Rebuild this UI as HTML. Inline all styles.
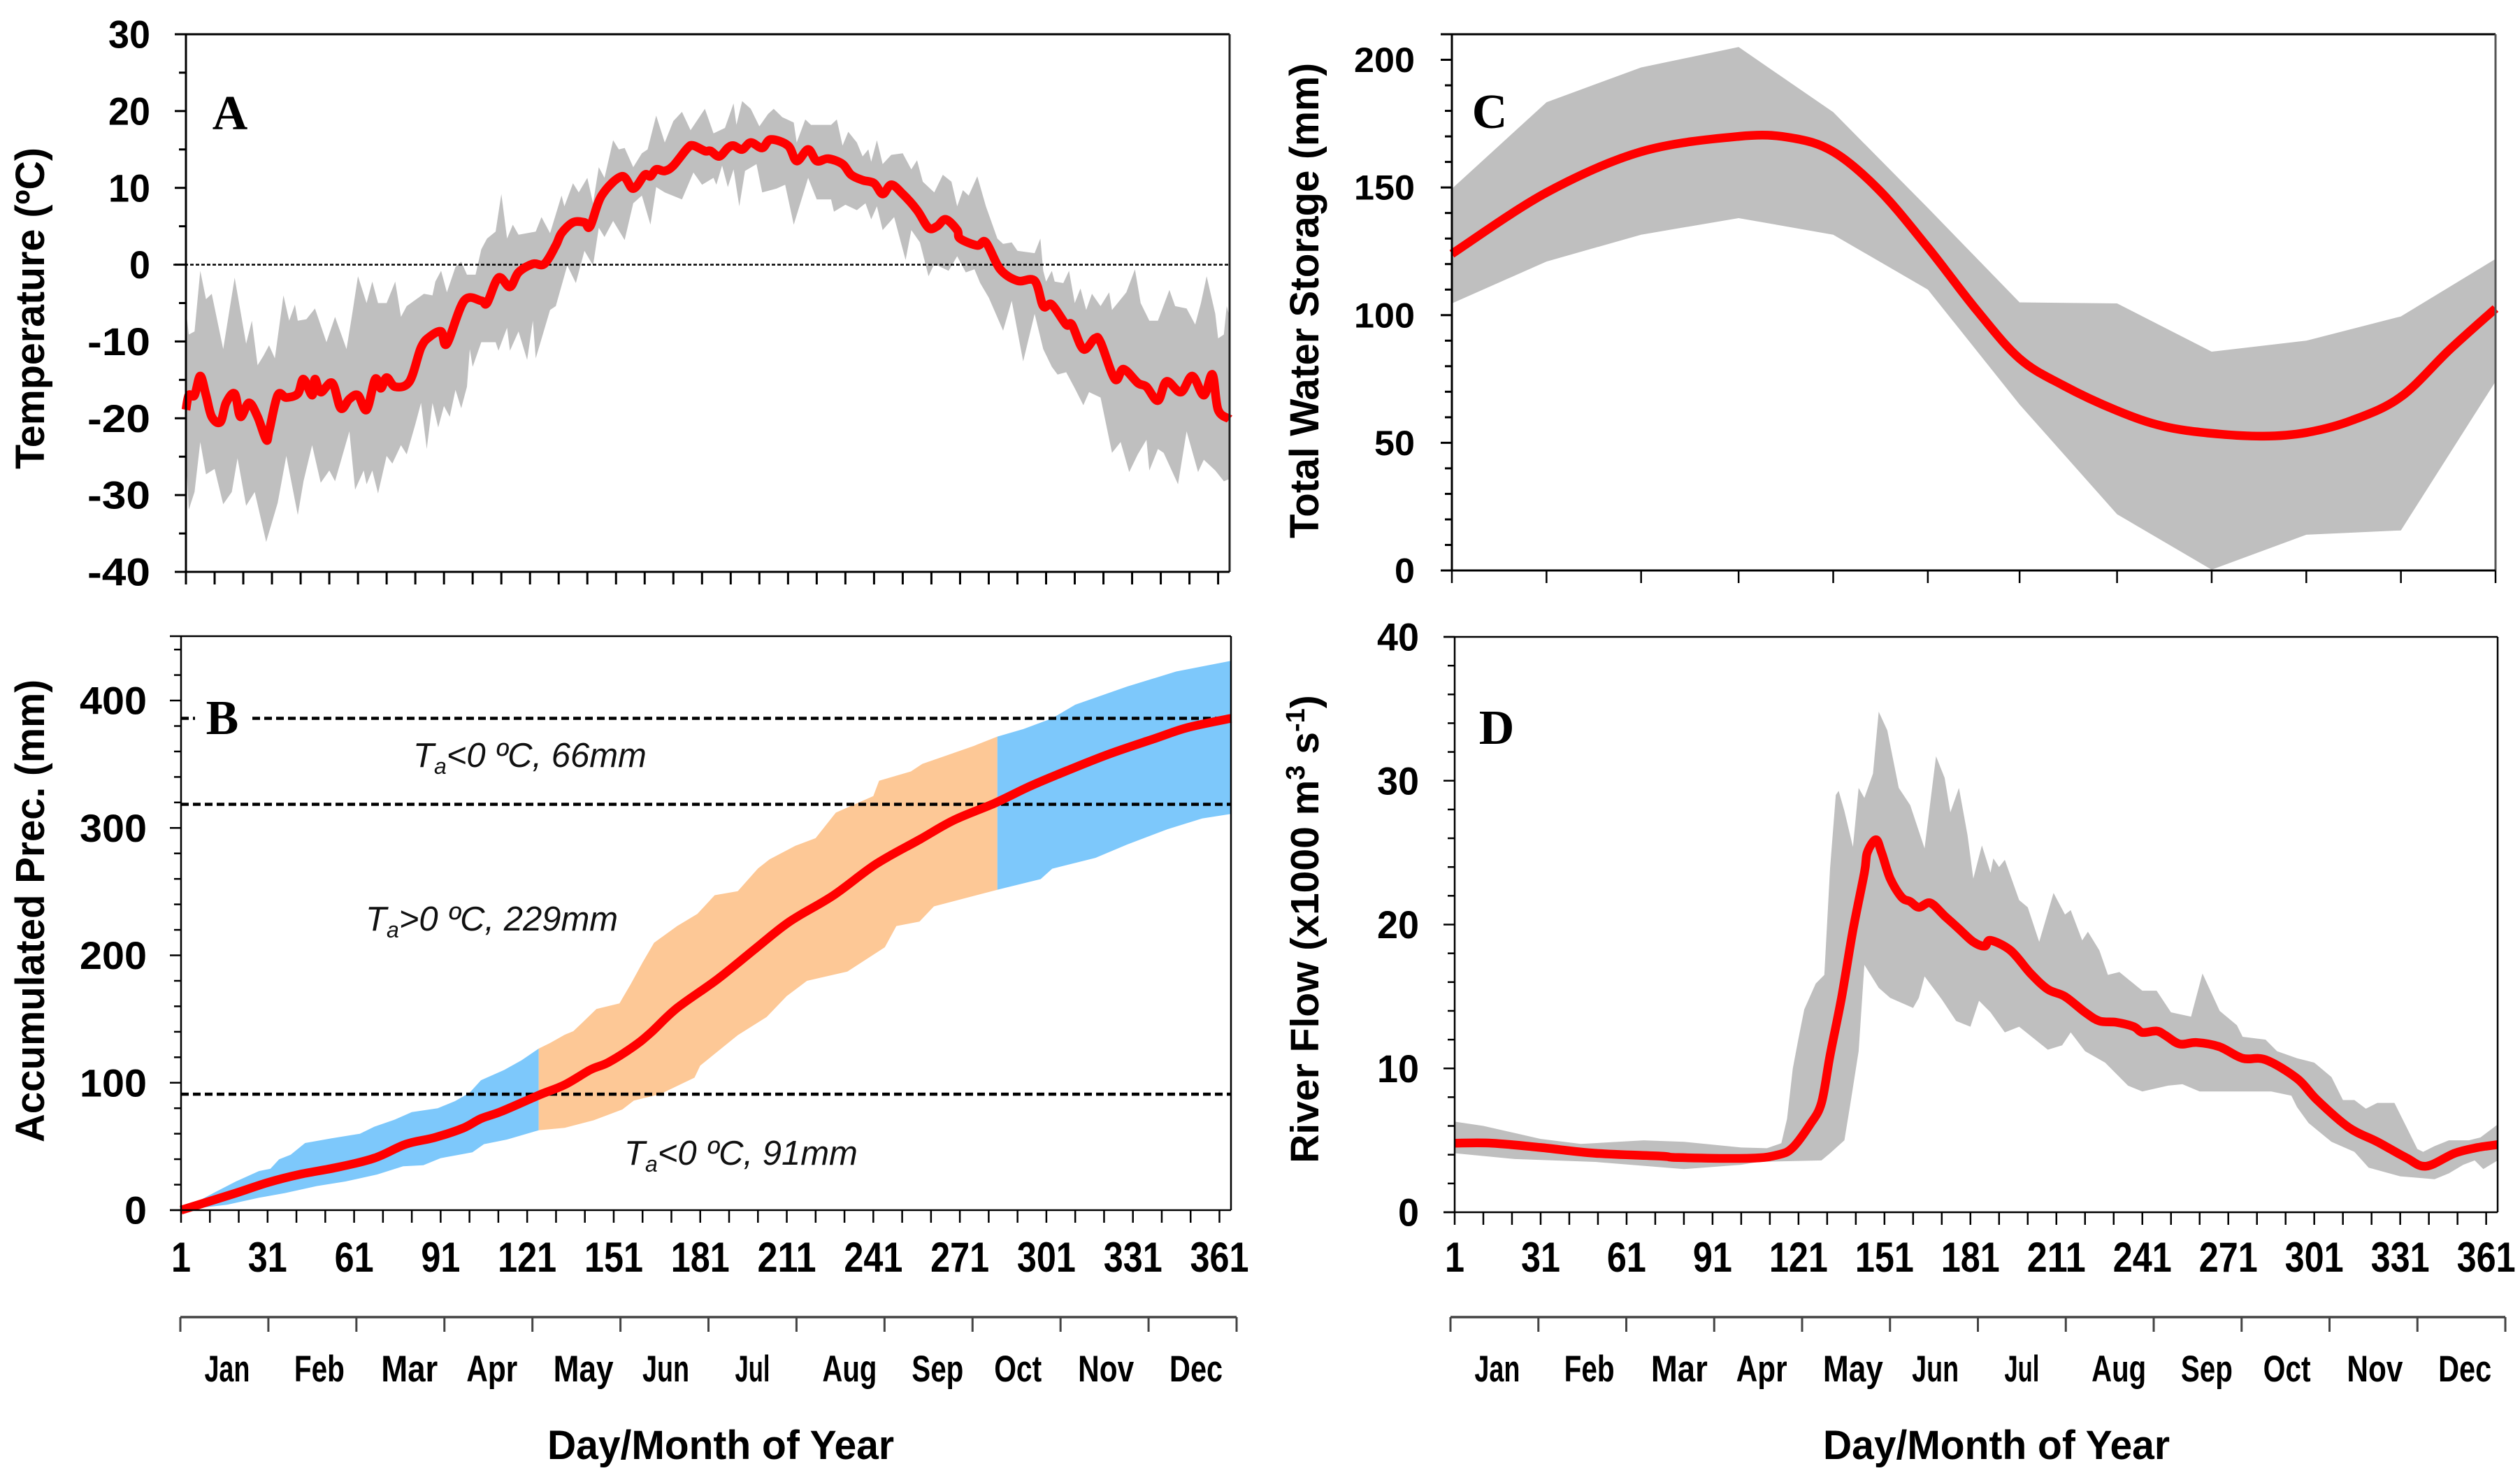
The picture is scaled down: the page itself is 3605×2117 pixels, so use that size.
<!DOCTYPE html>
<html lang="en">
<head>
<meta charset="utf-8">
<title>Temperature, precipitation, water storage and river flow by day of year</title>
<style>
html,body{margin:0;padding:0;background:#fff;}
#figure{position:absolute;left:0;top:0;width:3605px;height:2117px;display:block;}
text{font-family:"Liberation Sans",Arial,sans-serif;fill:#000;}
.ttl{font-weight:bold;}
.panel-letter{font-family:"Liberation Serif",serif;font-weight:bold;font-size:70px;}
.note{font-style:italic;font-size:49px;fill:#111;}
</style>
</head>
<body>
<svg id="figure" xmlns="http://www.w3.org/2000/svg" width="3605" height="2117" viewBox="0 0 3605 2117">
<rect width="3605" height="2117" fill="#fff"/>
<g id="panel-a"></g>
<g id="panel-b"></g>
<g id="panel-c"></g>
<g id="panel-d"></g>

<text class="ttl" font-size="58" text-anchor="middle" transform="translate(63 441) rotate(-90)" textLength="460" lengthAdjust="spacingAndGlyphs">Temperature (ºC)</text>
<text class="ttl" font-size="58" text-anchor="middle" transform="translate(63 1303) rotate(-90)" textLength="662" lengthAdjust="spacingAndGlyphs">Accumulated Prec. (mm)</text>
<text class="ttl" font-size="58" text-anchor="middle" transform="translate(1886 430) rotate(-90)" textLength="680" lengthAdjust="spacingAndGlyphs">Total Water Storage (mm)</text>
<text class="ttl" font-size="57" text-anchor="middle" transform="translate(1886 1329) rotate(-90)">River Flow (x1000 m<tspan font-size="38" dy="-20">3</tspan><tspan dy="20"> s</tspan><tspan font-size="38" dy="-20">-1</tspan><tspan dy="20">)</tspan></text>

<text class="ttl" font-size="58" text-anchor="middle" x="1031" y="2087" textLength="496" lengthAdjust="spacingAndGlyphs">Day/Month of Year</text>
<text class="ttl" font-size="58" text-anchor="middle" x="2856" y="2087" textLength="496" lengthAdjust="spacingAndGlyphs">Day/Month of Year</text>

<text class="note" x="591" y="1097">T<tspan font-size="32" dy="10">a</tspan><tspan dy="-10">&lt;0 ºC, 66mm</tspan></text>
<text class="note" x="523" y="1331">T<tspan font-size="32" dy="10">a</tspan><tspan dy="-10">&gt;0 ºC, 229mm</tspan></text>
<text class="note" x="893" y="1666">T<tspan font-size="32" dy="10">a</tspan><tspan dy="-10">&lt;0 ºC, 91mm</tspan></text>
</svg>

<script>
/* ---------- Panel A: temperature (deg C) ---------- */
const tempUpperDays = [1,2,4,6,8,10,14,18,22,24,26,28,30,32,35,37,39,40,43,46,50,53,57,59,61,64,66,68,71,74,76,78,84,87,88,90,92,95,97,99,102,104,106,109,111,113,115,117,123,125,128,132,133,136,138,141,143,145,147,150,152,154,157,160,162,165,168,171,174,177,182,185,189,192,193,195,198,201,204,206,209,213,214,217,219,226,228,230,232,235,237,239,240,242,244,247,251,254,256,258,262,265,268,270,272,274,277,280,284,286,289,291,297,299,300,301,303,304,307,309,311,313,315,317,320,323,324,329,332,334,337,340,344,346,350,353,355,357,360,361,363,364,365];
const tempUpper = [-5.9,-9.1,-8.7,-0.8,-4.5,-3.8,-11,-1.7,-10.3,-7.3,-13.1,-11.9,-10.5,-12.2,-4,-7.3,-5.2,-7.3,-7.1,-5.7,-10.1,-6.8,-11,-6.4,-1.5,-5,-2.2,-5,-5,-2.2,-6.8,-5.4,-3.8,-4,-2.2,-0.8,-3.6,-0.3,0.4,-1.3,-1.3,2,3.4,4.3,9.2,3.4,5.2,3.9,4.3,6.2,4.1,9,7.6,10.6,9.4,11.3,8,12.7,11.3,16.2,15,15.2,12.7,14.5,15,19.4,15.9,18.7,19.9,17.5,20.3,17.1,17.8,21,18.2,21.3,20.3,18,19.6,20.3,19.2,18.5,15.9,18.9,18.2,18.2,18.9,15.5,17.3,15.9,14.1,15,13.4,16.2,13.1,14.3,14.5,12.4,13.6,10.8,9.4,11.7,10.8,7.6,9.7,9,11.5,7.6,3.4,2.7,2.9,1.8,1.5,3.4,-0.8,-2.2,-0.8,-2.2,-2.4,-0.8,-5,-3.1,-5.9,-3.8,-5.4,-3.6,-5.9,-3.6,-0.6,-5,-7.3,-7.3,-3.3,-5.4,-5.7,-7.8,-5,-1.5,-6.4,-9.6,-9.1,-5.4,-6.8];
const tempLowerDays = [1,2,4,6,8,11,14,17,19,22,25,29,33,36,40,42,45,48,51,53,58,60,63,64,66,68,71,73,76,78,81,83,85,87,89,91,93,95,97,99,100,101,104,109,110,113,114,117,120,122,123,128,130,134,137,140,143,145,147,150,154,157,160,163,165,168,174,178,181,185,186,188,190,192,194,196,200,202,207,210,213,218,221,226,227,231,235,238,240,242,244,248,252,254,257,260,262,267,270,273,276,278,281,286,289,293,297,300,303,305,308,311,314,316,320,324,327,330,333,336,337,340,342,347,350,354,356,360,363,365];
const tempLower = [-24.9,-31.9,-29.6,-23.1,-27.3,-26.6,-31.2,-29.6,-25.2,-31.4,-29.6,-36.1,-31,-24.9,-32.6,-28.2,-23.5,-28.4,-26.8,-28.2,-21.7,-29.3,-26.8,-28.6,-26.8,-29.8,-24.9,-25.9,-23.5,-24.7,-20.8,-18,-24,-18,-21.2,-18.4,-19.8,-16.3,-18.7,-15.9,-11,-13.3,-10.1,-10.1,-11.2,-8.2,-11.2,-8.7,-12.4,-7.3,-12.2,-5.9,-5.4,-0.1,-2.4,1.8,-0.1,4.8,3.6,5.7,3.2,8,9,5.2,10.1,9.4,8.5,12,10.4,11.3,10.4,12.9,10.1,12.4,7.6,12.2,13.1,9.4,9.9,10.4,5.2,11.3,8.5,8.5,6.9,7.8,7.1,8,5.9,7.6,4.5,6.2,0.6,4.5,2.9,-1.5,0.1,-0.8,1.1,-1,-0.6,-2.4,-4.3,-8.6,-4.7,-12.6,-6.4,-11,-13.3,-14.3,-14,-16.1,-18.3,-16.6,-17.3,-24.5,-23.1,-27,-24.7,-22.8,-26.8,-24,-24.5,-28.6,-21.7,-27,-25.4,-26.8,-28.2,-27.9];
const tempMeanDays = [1,2,4,6,8,10,13,15,18,20,23,26,29,30,33,36,40,42,45,46,48,52,55,58,61,64,67,69,71,74,79,83,86,90,92,98,104,106,110,114,117,122,126,130,132,136,140,142,146,153,157,161,163,165,168,171,176,178,182,184,187,190,192,195,198,202,205,211,214,218,221,225,230,233,237,241,244,247,251,256,260,263,266,270,271,277,280,285,291,297,300,303,308,310,314,318,320,325,328,333,336,340,343,348,352,356,359,361,365];
const tempMean = [-18.9,-17,-17,-14.5,-17,-19.8,-20.5,-18,-16.8,-19.8,-18,-19.8,-22.8,-21.7,-17,-17.3,-16.8,-14.9,-17,-14.9,-16.6,-15.4,-18.7,-17.5,-17,-18.9,-14.9,-16.1,-14.7,-15.9,-15.2,-10.8,-9.4,-8.7,-10.3,-4.7,-4.7,-5,-1.7,-2.9,-1,0.1,0.1,2.5,4.1,5.5,5.5,5,9,11.5,9.9,11.7,11.5,12.4,12.2,12.9,15.2,15.5,14.8,14.8,14.1,15.2,15.5,15,15.9,15.2,16.3,15.5,13.5,15,13.5,13.8,13.1,11.7,11,10.6,9.2,10.4,9.2,7.1,4.8,5,5.9,4.5,3.4,2.5,2.9,-0.6,-2.1,-2.1,-5.4,-5.2,-7.8,-7.8,-11,-9.6,-10.1,-14.9,-13.6,-15.4,-15.9,-17.7,-15.2,-16.6,-14.5,-17,-14.3,-18.9,-20.1];
const tempTicks = ["30","20","10","0","-10","-20","-30","-40"];

/* ---------- Panel B: accumulated precipitation (mm) ---------- */
const precUpperDays = [1,13,20,28,32,35,39,44,53,63,68,75,81,90,96,101,105,113,119,125,129,134,137,140,145,153,157,161,165,173,180,186,194,201,205,214,221,228,233,241,243,254,258,267,276,284,293,303,311,329,346,365];
const precUpper = [0,14.3,22.5,30.7,32.5,39.9,43.5,52.7,56.3,60,65.5,71,77,80,85.6,92,102,110,117.6,126.8,131.3,137.7,140.5,146.9,157.9,162.3,177.8,194.4,209.9,223,232.5,247.2,250.3,268.2,275.3,286,292,312,317,325,337,344.3,350.3,357.4,364.5,371.7,377.6,386,396.7,411,422.8,431.2];
const precLowerDays = [1,17,28,37,48,58,69,78,85,91,102,106,114,125,134,144,154,158,167,179,181,194,204,211,218,232,245,249,257,262,284,299,303,318,329,343,355,365];
const precLower = [0,4.2,9.7,13.4,18.9,22.5,28,34.4,35.3,40.8,45.4,51.8,55.4,62.7,64.6,70.5,79,86,91,104,113.5,137.3,151.6,168,180,187.3,206.3,223,226.5,238.4,251.5,259.8,268,276.5,287,299,307.4,311];
const precMeanDays = [1,20,31,42,55,68,79,89,99,105,112,125,134,143,149,158,164,173,187,200,212,227,242,257,269,283,295,305,322,339,350,365];
const precMean = [0,13.4,21.6,28,33.5,40.8,51.8,57,64.6,71.9,77.4,90.2,98.4,110.3,115.8,128.6,139.6,158.7,181.3,205,226.5,246.8,271.7,290.8,306.2,319.3,332.4,342,357.4,370.5,378.8,386];
const precThresholds = [386,318.5,91];
const precTicks = ["400","300","200","100","0"];

/* ---------- Panel C: total water storage (mm) ---------- */
const storageBandDays = [1,34,67,101,134,167,199,233,266,299,332,365];
const storageUpper = [149.5,183.4,197,205,179.5,142,105,104.6,85.7,90,99.5,122];
const storageLower = [104.6,121,131.5,138,131.5,110,65,22,0.3,14,15.7,74];
const storageMeanDays = [1,34,67,101,119,134,150,167,184,199,214,233,249,266,284,299,315,332,349,365];
const storageMean = [124,148,164,170,169.5,164,149,126.5,102,83,72.6,62.6,56.5,53.7,52.6,54,58.8,68,86.5,102.6];
const storageTicks = ["200","150","100","50","0"];

/* ---------- Panel D: river flow (x1000 m3/s) ---------- */
const flowUpperDays = [1,11,31,45,67,81,101,110,115,117,119,121,123,127,130,132,134,135,137,140,142,144,147,149,152,156,160,165,169,172,174,177,180,182,185,188,189,191,193,198,201,205,210,214,216,220,222,226,229,233,241,246,251,258,262,268,274,276,284,288,295,301,307,311,315,319,323,329,333,337,339,343,348,355,359,365];
const flowUpper = [6.3,6,5.1,4.75,5,4.9,4.5,4.45,4.8,6.5,10,12.1,14.1,15.9,16.5,23.9,29,29.3,27.9,25.4,29.5,28.8,30.5,34.8,33.5,29.5,28.3,25.3,31.7,30.2,27.8,29.5,26.2,23.2,25.5,23.6,24.6,24,24.5,21.7,21.2,18.8,22.2,20.7,21,18.9,19.5,18.2,16.5,16.7,15.4,15.4,13.9,13.6,16.6,14,13,12.2,12,11.2,10.7,10.4,9.4,7.8,7.8,7.2,7.6,7.6,6,4.4,4.2,4.6,5,5,5.2,6.1];
const flowLowerDays = [1,22,50,81,101,107,129,132,137,139,142,144,149,153,161,163,165,171,176,181,184,188,193,198,208,213,216,221,228,236,241,250,255,261,269,278,286,293,295,299,307,315,320,331,343,348,353,357,360,365];
const flowLower = [4.1,3.7,3.5,3,3.3,3.5,3.6,4.1,5,7.4,11.2,17.2,15.6,14.9,14.2,14.9,16.4,14.8,13.3,12.9,14.7,13.9,12.5,12.9,11.3,11.6,12.5,11.2,10.4,8.8,8.4,8.8,8.9,8.4,8.4,8.4,8.4,8.1,7.3,6.2,4.9,4.2,3.1,2.5,2.3,2.7,3.3,3.6,3,3.6];
const flowMeanDays = [1,14,31,50,73,79,104,114,119,125,129,132,136,140,144,145,148,150,153,157,160,163,167,172,177,182,186,188,195,202,208,214,221,226,232,238,241,246,249,254,260,268,276,284,295,302,313,323,333,340,350,358,365];
const flowMean = [4.8,4.8,4.5,4.1,3.9,3.8,3.75,4,4.5,6.1,7.6,10.9,14.9,19.6,23.6,25,25.9,25,23.2,21.9,21.6,21.2,21.5,20.6,19.7,18.8,18.5,18.9,18.2,16.6,15.5,15,13.9,13.3,13.2,12.9,12.5,12.6,12.3,11.7,11.8,11.5,10.7,10.6,9.3,7.8,5.9,4.9,3.8,3.2,4.1,4.5,4.7];
const flowTicks = ["40","30","20","10","0"];

/* ---------- Shared axis labels ---------- */
const dayLabels = ["1","31","61","91","121","151","181","211","241","271","301","331","361"];
const monthLabels = ["Jan","Feb","Mar","Apr","May","Jun","Jul","Aug","Sep","Oct","Nov","Dec"];

const NS = 'http://www.w3.org/2000/svg';
const RED_WIDTH = 12.5;
function mk(tag, parent, attrs) {
  const el = document.createElementNS(NS, tag);
  for (const k in attrs) el.setAttribute(k, attrs[k]);
  parent.appendChild(el);
  return el;
}
function scaleLinear(d0, d1, r0, r1) {
  return v => r0 + (v - d0) * (r1 - r0) / (d1 - d0);
}
function curvePath(days, vals, x, y) {
  const p = days.map((d, i) => [x(d), y(vals[i])]);
  let s = 'M' + p[0][0].toFixed(1) + ' ' + p[0][1].toFixed(1);
  for (let i = 0; i < p.length - 1; i++) {
    const a = p[Math.max(i - 1, 0)], b = p[i], c = p[i + 1], e = p[Math.min(i + 2, p.length - 1)];
    s += 'C' + (b[0] + (c[0] - a[0]) / 6).toFixed(1) + ' ' + (b[1] + (c[1] - a[1]) / 6).toFixed(1) + ' ' +
         (c[0] - (e[0] - b[0]) / 6).toFixed(1) + ' ' + (c[1] - (e[1] - b[1]) / 6).toFixed(1) + ' ' +
         c[0].toFixed(1) + ' ' + c[1].toFixed(1);
  }
  return s;
}
function bandPath(upDays, up, loDays, lo, x, y, from, to) {
  const pts = [];
  upDays.forEach((d, i) => { if (d >= from && d <= to) pts.push(x(d).toFixed(1) + ' ' + y(up[i]).toFixed(1)); });
  for (let i = loDays.length - 1; i >= 0; i--) {
    const d = loDays[i];
    if (d >= from && d <= to) pts.push(x(d).toFixed(1) + ' ' + y(lo[i]).toFixed(1));
  }
  return 'M' + pts.join('L') + 'Z';
}
function drawFrame(g, box, sw, rightColor) {
  const top = mk('line', g, {x1: box.l - 16, x2: box.r, y1: box.t, y2: box.t, stroke: '#000', 'stroke-width': sw});
  
  
  const left = mk('line', g, {x1: box.l, x2: box.l, y1: box.t, y2: box.b, stroke: '#000', 'stroke-width': sw});
  
  
  const right = mk('line', g, {x1: box.r, x2: box.r, y1: box.t, y2: box.b, stroke: rightColor, 'stroke-width': sw});
  
  
  const bottom = mk('line', g, {x1: box.l - 16, x2: box.r, y1: box.b, y2: box.b, stroke: '#000', 'stroke-width': sw});
  
  
}
function drawYAxis(g, box, y, labels, majorStep, minorStep, vMin, vMax, fontSize, digitW, rightEdge, sw) {
  for (let v = vMin; v <= vMax + 0.001; v += minorStep) {
    const isMajor = Math.abs((v - vMin) / majorStep - Math.round((v - vMin) / majorStep)) < 1e-6;
    const t = mk('line', g, {x1: box.l - (isMajor ? 16 : 10), x2: box.l, y1: y(v), y2: y(v), stroke: '#000', 'stroke-width': sw});
    
    
  }
  labels.forEach(lab => {
    const s = mk('text', g, {x: rightEdge, y: y(+lab) + fontSize * 0.35, 'text-anchor': 'end', 'font-size': fontSize, 'font-weight': 'bold',
      textLength: lab.length * digitW, lengthAdjust: 'spacingAndGlyphs'});
    
    
    s.textContent = lab;
  });
}
function drawXTicks(g, box, x, step, len, sw) {
  for (let d = 1; d <= 365; d += step) {
    const t = mk('line', g, {x1: x(d), x2: x(d), y1: box.b, y2: box.b + len, stroke: '#000', 'stroke-width': sw});
    
    
  }
}
function drawDayLabels(g, x, baseline) {
  dayLabels.forEach(lab => {
    const s = mk('text', g, {x: x(+lab), y: baseline, 'text-anchor': 'middle', 'font-size': 60, 'font-weight': 'bold',
      textLength: lab.length * 28, lengthAdjust: 'spacingAndGlyphs'});
    
    
    s.textContent = lab;
  });
}
function drawMonths(g, x0, x1, centerOffsets, widths) {
  const axis = mk('line', g, {x1: x0, x2: x1, y1: 1884, y2: 1884, stroke: '#444', 'stroke-width': 3.5});
  
  
  for (let i = 0; i <= 12; i++) {
    const tx = x0 + (x1 - x0) * i / 12;
    const t = mk('line', g, {x1: tx, x2: tx, y1: 1884, y2: 1905, stroke: '#444', 'stroke-width': 3});
    
    
  }
  monthLabels.forEach((m, i) => {
    const cx = x0 + (x1 - x0) * (i + 0.5) / 12 + centerOffsets[i];
    const s = mk('text', g, {x: cx, y: 1976, 'text-anchor': 'middle', 'font-size': 53, 'font-weight': 'bold', fill: '#111',
      textLength: widths[i], lengthAdjust: 'spacingAndGlyphs'});
    
    
    s.textContent = m;
  });
}
function letter(g, txt, x, y) {
  const s = mk('text', g, {x: x, y: y, 'text-anchor': 'middle', class: 'panel-letter'});
  
  
  s.textContent = txt;
}
const monthOffsets = [4, 10, 13, 5, 10, 2, 0, 13, 13, 2, 2, 5];
const monthWidths = [65, 72, 81, 73, 86, 67, 50, 78, 74, 68, 80, 76];

/* Panel A */
(function () {
  const g = document.getElementById('panel-a');
  const box = {l: 266, r: 1759, t: 49, b: 818};
  const x = scaleLinear(1, 365, box.l, box.r);
  const y = scaleLinear(-40, 30, box.b, box.t);
  const band = mk('path', g, {d: bandPath(tempUpperDays, tempUpper, tempLowerDays, tempLower, x, y, 1, 365), fill: '#bfbfbf'});
  
  
  const zero = mk('line', g, {x1: 248, x2: box.r, y1: y(0), y2: y(0), stroke: '#000', 'stroke-width': 2.5, 'stroke-dasharray': '5 3'});
  
  
  const mean = mk('path', g, {d: curvePath(tempMeanDays, tempMean, x, y), fill: 'none', stroke: '#ff0000', 'stroke-width': RED_WIDTH, 'stroke-linejoin': 'round'});
  
  
  drawFrame(g, box, 3, '#222');
  drawYAxis(g, box, y, tempTicks, 10, 5, -40, 30, 56, 30, 215, 3);
  drawXTicks(g, box, x, 10, 18, 3);
  letter(g, 'A', 329, 185);
})();

/* Panel B */
(function () {
  const g = document.getElementById('panel-b');
  const box = {l: 259, r: 1761, t: 910, b: 1731};
  const x = scaleLinear(1, 365, box.l, box.r);
  const y = scaleLinear(0, 450.5, box.b, box.t);
  const blue1 = mk('path', g, {d: bandPath(precUpperDays, precUpper, precLowerDays, precLower, x, y, 1, 125), fill: '#7dc8fb'});
  
  
  const orange = mk('path', g, {d: bandPath(precUpperDays, precUpper, precLowerDays, precLower, x, y, 125, 284), fill: '#fdc896'});
  
  
  const blue2 = mk('path', g, {d: bandPath(precUpperDays, precUpper, precLowerDays, precLower, x, y, 284, 365), fill: '#7dc8fb'});
  
  
  precThresholds.forEach(v => {
    const l = mk('line', g, {x1: box.l, x2: box.r, y1: y(v), y2: y(v), stroke: '#000', 'stroke-width': 4.5, 'stroke-dasharray': '11 6'});
    
    
  });
  const mean = mk('path', g, {d: curvePath(precMeanDays, precMean, x, y), fill: 'none', stroke: '#ff0000', 'stroke-width': RED_WIDTH, 'stroke-linejoin': 'round'});
  
  
  drawFrame(g, box, 2.5, '#000');
  drawYAxis(g, box, y, precTicks, 100, 20, 0, 440, 56, 32, 210, 2.5);
  drawXTicks(g, box, x, 10, 18, 2.5);
  drawDayLabels(g, x, 1819);
  drawMonths(g, 258, 1769, monthOffsets, monthWidths);
  const mask = mk('rect', g, {x: 279, y: y(386) - 6, width: 80, height: 12, fill: '#fff'});
  
  
  letter(g, 'B', 318, 1050);
})();

/* Panel C */
(function () {
  const g = document.getElementById('panel-c');
  const box = {l: 2077, r: 3570, t: 49, b: 816};
  const x = scaleLinear(1, 365, box.l, box.r);
  const y = scaleLinear(0, 210, box.b, box.t);
  letter(g, 'C', 2131, 183);
  const band = mk('path', g, {d: bandPath(storageBandDays, storageUpper, storageBandDays, storageLower, x, y, 1, 365), fill: '#bfbfbf'});
  
  
  const mean = mk('path', g, {d: curvePath(storageMeanDays, storageMean, x, y), fill: 'none', stroke: '#ff0000', 'stroke-width': RED_WIDTH, 'stroke-linejoin': 'round'});
  
  
  drawFrame(g, box, 3, '#555');
  drawYAxis(g, box, y, storageTicks, 50, 10, 0, 210, 50, 29, 2024, 3);
  storageBandDays.forEach(d => {
    const t = mk('line', g, {x1: x(d), x2: x(d), y1: box.b, y2: box.b + 18, stroke: '#000', 'stroke-width': 2.5});
    
    
  });
})();

/* Panel D */
(function () {
  const g = document.getElementById('panel-d');
  const box = {l: 2081, r: 3573, t: 911, b: 1734};
  const x = scaleLinear(1, 365, box.l, box.r);
  const y = scaleLinear(0, 40, box.b, box.t);
  const band = mk('path', g, {d: bandPath(flowUpperDays, flowUpper, flowLowerDays, flowLower, x, y, 1, 365), fill: '#bfbfbf'});
  
  
  const mean = mk('path', g, {d: curvePath(flowMeanDays, flowMean, x, y), fill: 'none', stroke: '#ff0000', 'stroke-width': RED_WIDTH, 'stroke-linejoin': 'round'});
  
  
  drawFrame(g, box, 2.5, '#000');
  drawYAxis(g, box, y, flowTicks, 10, 2, 0, 40, 56, 30, 2030, 2.5);
  drawXTicks(g, box, x, 10, 18, 2.5);
  drawDayLabels(g, x, 1819);
  drawMonths(g, 2075, 3584, monthOffsets, monthWidths);
  letter(g, 'D', 2141, 1064);
})();
</script>
</body>
</html>
